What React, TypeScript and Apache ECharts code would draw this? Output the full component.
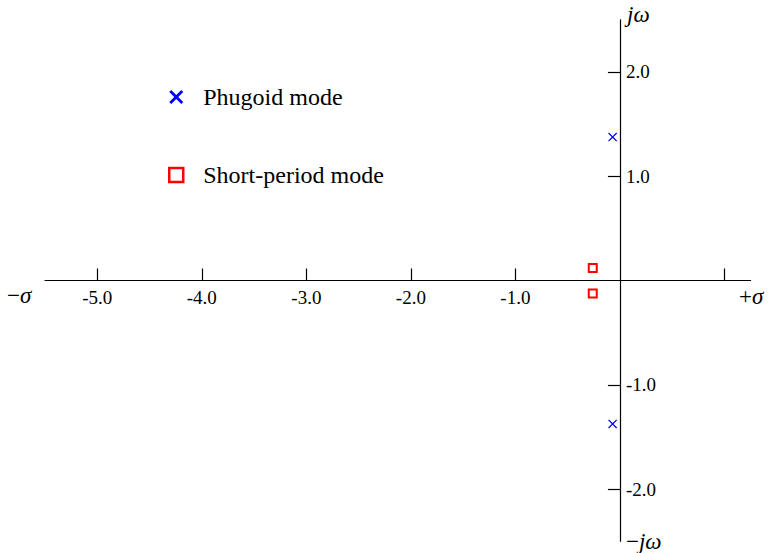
import React, { useEffect, useRef } from "react";
import * as echarts from "echarts";

const phugoidRe = [-0.07, -0.07];
const phugoidIm = [1.375, -1.375];
const shortRe = [-0.26, -0.26];
const shortIm = [0.12, -0.125];
const xTickValues = [-5, -4, -3, -2, -1, 1];
const xLabelValues = [-5, -4, -3, -2, -1];
const yTickValues = [-2, -1, 1, 2];
const seriesNames = ["Phugoid mode", "Short-period mode"];

const FONT = "Liberation Serif";
const CROSS_SMALL = "path://M0,1L1,0L5,4L9,0L10,1L6,5L10,9L9,10L5,6L1,10L0,9L4,5Z";
const CROSS_BIG = "path://M0,2L2,0L7,5L12,0L14,2L9,7L14,12L12,14L7,9L2,14L0,12L5,7Z";
const SQUARE = "path://M0,0H10V10H0Z";

const GRID_LEFT = 45;
const GRID_RIGHT = 18.4;
const GRID_TOP = 19.75;
const GRID_BOTTOM = 11.75;

export default function App() {
  const ref = useRef<HTMLDivElement>(null);
  useEffect(() => {
    if (!ref.current) return;
    const chart = echarts.init(ref.current, null, { renderer: "svg" });
    const W = 769;
    const H = 553;
    const xMin = -5.5;
    const xMax = 1.25;
    const yMin = -2.5;
    const yMax = 2.5;
    const gw = W - GRID_LEFT - GRID_RIGHT;
    const gh = H - GRID_TOP - GRID_BOTTOM;
    const xAxisOffset = -((0 - yMin) / (yMax - yMin)) * gh;
    const yAxisOffset = -((0 - xMin) / (xMax - xMin)) * gw;
    const richSym = (t: string) => ({
      text: t,
      fontFamily: FONT,
      fontSize: 23,
      fill: "#000",
      rich: {
        n: { fontFamily: FONT, fontSize: 23, color: "#000" },
        i: { fontFamily: FONT, fontSize: 23, fontStyle: "italic", color: "#000" },
      },
    });
    chart.setOption({
      animation: false,
      backgroundColor: "#fff",
      textStyle: { fontFamily: FONT },
      grid: {
        left: GRID_LEFT,
        right: GRID_RIGHT,
        top: GRID_TOP,
        bottom: GRID_BOTTOM,
        containLabel: false,
        outerBoundsMode: "none",
      },
      xAxis: {
        type: "value",
        min: xMin,
        max: xMax,
        position: "bottom",
        offset: xAxisOffset,
        axisLine: { onZero: false, lineStyle: { color: "#000", width: 1.2 } },
        axisTick: { show: true, inside: true, length: 12, customValues: xTickValues, lineStyle: { color: "#000", width: 1.2 } },
        axisLabel: {
          show: true,
          customValues: xLabelValues,
          margin: 7,
          color: "#000",
          fontFamily: FONT,
          fontSize: 19,
          formatter: (v: number) => v.toFixed(1),
        },
        splitLine: { show: false },
      },
      yAxis: {
        type: "value",
        min: yMin,
        max: yMax,
        position: "left",
        offset: yAxisOffset,
        axisLine: { onZero: false, lineStyle: { color: "#000", width: 1.2 } },
        axisTick: { show: true, inside: false, length: 12, customValues: yTickValues, lineStyle: { color: "#000", width: 1.2 } },
        axisLabel: {
          show: true,
          inside: true,
          customValues: yTickValues,
          margin: 6,
          color: "#000",
          fontFamily: FONT,
          fontSize: 19,
          formatter: (v: number) => v.toFixed(1),
        },
        splitLine: { show: false },
      },
      legend: {
        orient: "vertical",
        left: 163,
        top: 78,
        itemWidth: 44,
        itemHeight: 14,
        itemGap: 50,
        symbolKeepAspect: true,
        textStyle: { fontFamily: FONT, fontSize: 24, color: "#000", lineHeight: 28 },
        data: [
          { name: seriesNames[0], icon: CROSS_BIG, itemStyle: { color: "#0000ff", borderWidth: 0, opacity: 1 } },
          {
            name: seriesNames[1],
            icon: SQUARE,
            itemStyle: { color: "rgba(0,0,0,0)", borderColor: "#ff0000", borderWidth: 2.5, opacity: 1 },
          },
        ],
      },
      series: [
        {
          name: seriesNames[0],
          type: "scatter",
          symbol: CROSS_SMALL,
          symbolSize: 9,
          itemStyle: { color: "#0000ff", opacity: 1 },
          data: phugoidRe.map((x, i) => [x, phugoidIm[i]]),
        },
        {
          name: seriesNames[1],
          type: "scatter",
          symbol: SQUARE,
          symbolSize: 8,
          itemStyle: { color: "rgba(0,0,0,0)", borderColor: "#ff0000", borderWidth: 2, opacity: 1 },
          data: shortRe.map((x, i) => [x, shortIm[i]]),
        },
      ],
      graphic: [
        { type: "text", left: 7, top: 284, style: richSym("{n|−}{i|σ}") },
        { type: "text", left: 739, top: 285, style: richSym("{n|+}{i|σ}") },
        { type: "text", left: 627, top: 3, style: richSym("{i|jω}") },
        { type: "text", left: 626, top: 530, style: richSym("{n|−}{i|jω}") },
      ],
    });
    return () => chart.dispose();
  }, []);
  return <div ref={ref} style={{ position: "fixed", left: 0, top: 0, width: 769, height: 553 }} />;
}
